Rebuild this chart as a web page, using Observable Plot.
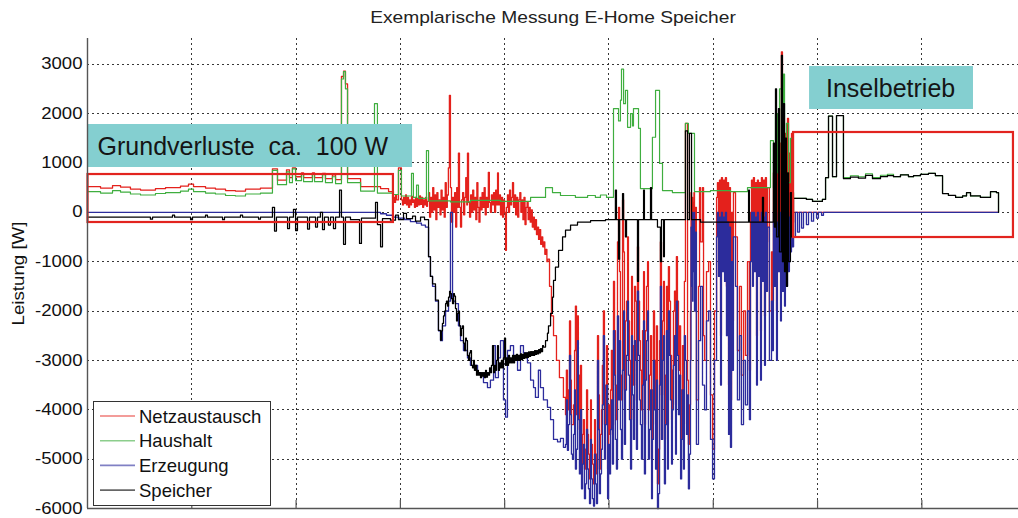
<!DOCTYPE html>
<html>
<head>
<meta charset="utf-8">
<script src="https://cdn.jsdelivr.net/npm/d3@7"></script>
<script src="https://cdn.jsdelivr.net/npm/@observablehq/plot@0.6"></script>
<style>
  html, body { margin: 0; padding: 0; background: #fff; }
  #chart { width: 1018px; height: 518px; }
</style>
</head>
<body>
<div id="chart"></div>
<script>
// ---- Texts and axis values ----
const chartTitle = "Exemplarische Messung E-Home Speicher";
const yLabel = "Leistung [W]";
const yTicks = [-6000, -5000, -4000, -3000, -2000, -1000, 0, 1000, 2000, 3000];
const gridMinutes = [60, 120, 180, 240, 300, 360, 420, 480];   // time grid, minutes since start

// ---- Series: [minute, power in W] ----
const seriesNames = ["Netzaustausch", "Haushalt", "Erzeugung", "Speicher"];
const seriesColors = ["#e4211c", "#3fae3f", "#2c2c9c", "#000000"];

const netzaustausch = [
  [0,520],[7.5,490],[14.4,540],[19.0,510],[24.7,470],[30.5,450],[39.1,480],[44.9,500],[53.5,530],[58.1,570],
  [61.0,520],[67.9,490],[73.6,470],[79.4,440],[85.1,430],[90.9,470],[99.5,490],[106.4,880],[109.3,650],[114.5,860],
  [116.2,700],[117.9,900],[119.7,720],[123.1,800],[124.3,700],[129.4,800],[130.6,700],[135.2,790],[136.9,680],[140.9,760],
  [142.7,660],[146.1,2750],[147.3,2860],[148.4,2600],[149.6,680],[157.1,520],[168.6,480],[173.2,420],
  [176.0,300],[176.6,200],[177.2,350],[177.8,250],[178.9,900],[180.6,250],[181.2,150],[181.8,300],[182.4,180],[183.0,350],
  [183.5,150],[184.1,300],[184.7,100],[185.3,250],[185.8,150],[186.4,320],[187.0,200],[187.5,250],[188.1,100],[188.7,300],
  [189.3,120],[189.9,280],[190.5,150],[191.1,330],[191.6,160],[192.2,300],[192.8,100],[193.4,250],[193.9,150],[194.5,300],
  [195.1,120],[195.6,220],
  [196.2,400],[196.8,-100],[197.4,300],[198.0,0],[198.6,500],[199.2,50],[199.8,350],[200.4,-150],[201.0,400],[201.6,100],
  [202.2,250],[202.8,-50],[203.4,450],[204.0,50],[204.6,300],[205.2,-100],[205.8,600],[206.4,100],[207.0,350],[207.6,900],
  [208.2,2370],[208.8,500],[209.4,-200],[210.0,300],[210.6,0],[211.2,400],[211.8,-300],[212.4,500],[213.0,100],[213.4,1200],
  [214.0,100],[214.6,-300],[215.2,250],[215.8,400],[216.4,-50],[217.0,300],[217.6,700],[218.2,150],[218.6,1200],[219.2,200],
  [219.8,-100],[220.4,350],[221.0,0],[221.6,450],[222.2,50],[222.8,300],[223.4,-150],[224.0,600],[224.6,100],[225.2,-200],
  [225.8,300],[226.4,50],[227.0,400],[227.6,100],[228.2,500],[228.8,-50],[229.4,300],[230.0,100],[230.6,810],[231.2,200],
  [231.8,0],[232.4,350],[233.0,150],[233.6,400],[234.2,0],[234.8,450],[235.4,150],[235.9,800],[236.4,150],[237.0,350],
  [237.6,-50],[238.2,300],[238.8,-100],[239.4,250],[239.9,0],[240.5,-770],[241.0,100],[241.6,350],[242.2,0],[242.8,450],
  [243.4,150],[244.0,300],[244.5,600],[245.1,100],[245.7,350],[246.3,-50],[246.9,300],[247.5,-100],[248.1,250],[248.7,400],
  [249.3,0],[249.9,250],[250.5,-150],[251.1,300],[251.7,-250],[252.3,100],[252.9,200],[253.5,-150],[254.1,100],[254.7,-200],
  [255.3,50],[255.9,-300],[256.5,-100],[257.1,-350],[257.7,-150],[258.3,-450],[258.9,-300],[259.5,-550],[260.1,-350],[260.7,-650],
  [261.3,-500],[261.9,-700],[262.5,-600],[263.1,-850],[263.7,-750],[264.3,-1000],[264.9,-950],
  [265.8,-1500],[266.9,-2100],[268.1,-2500],[269.8,-3000],[271.5,-3350],[273.8,-3750],
  [275.0,-4100],[276.1,-4000],[277.3,-2200],[278.4,-4300],[279.6,-3900],[280.7,-1900],[281.9,-2100],[283.0,-4400],[284.2,-5100],[285.3,-4200],
  [286.5,-4800],[287.7,-4500],[288.8,-5400],[289.9,-4700],[291.1,-5500],[292.2,-4900],[293.4,-2500],[294.5,-5200],[295.7,-4000],[296.8,-2000],
  [298.0,-3500],[299.2,-5200],[300.3,-4500],[301.4,-2800],[302.6,-1400],[303.7,-3500],[304.9,-600],[305.5,100],[306.1,-1200],[307.2,-3800],
  [307.8,250],[308.4,-800],[309.5,-2200],[310.7,-500],[311.8,-3000],[313.0,-1300],[314.1,-3500],[315.3,-1800],[316.4,-700],[317.6,-2600],
  [318.7,-4000],[319.9,-1200],[321.0,-2400],[322.2,-1000],[323.3,-3300],[324.5,-5000],[325.6,-2000],[326.8,-4300],[327.9,-5500],[329.1,-2600],
  [329.6,-600],[330.8,-2200],[331.9,-4600],[333.1,-1500],[334.2,-1100],[335.4,-2900],[336.5,-3200],[337.7,-1600],[338.8,-900],[340.0,-3200],
  [341.2,-4600],[342.3,-2700],[343.4,-1400],[344.0,1800],[345.2,-3400],[345.7,-4700],[346.9,-2000],[347.2,400],[347.5,-600],[347.8,300],
  [348.1,-900],[348.3,200],[348.6,-300],[348.9,400],[349.2,-1000],[349.8,100],[350.3,-3800],[351.5,-1500],[352.1,500],[352.7,-600],
  [353.8,500],[354.4,-2500],[355.0,-3000],[356.1,-1200],[357.3,-1000],[358.4,-3700],[359.6,-4800],[360.7,-2000],[361.9,300],[362.4,600],
  [363.0,-300],[363.6,650],[364.2,-2500],[364.7,700],[365.3,-200],[365.9,650],[366.5,-400],[367.0,700],[367.6,-1500],[368.2,600],
  [368.8,-3500],[369.3,500],[369.9,-3800],[370.5,0],[371.1,-2200],[371.6,400],[372.8,-500],[373.9,-2800],[375.1,-1500],[376.2,-3300],
  [377.4,-2000],[378.5,-2900],[379.7,-1000],[380.8,-3200],[381.4,0],[382.0,650],[382.6,-500],[383.1,700],[383.7,-200],[384.3,600],
  [384.9,-2500],[385.4,650],[386.0,-300],[386.6,600],[387.2,-2400],[387.7,700],[388.3,-400],[388.9,650],[389.5,-2100],[390.0,700],
  [390.6,-600],[391.2,500],[392.3,-2000],[393.5,-800],[394.1,-1800],[394.6,800],[395.2,-500],[395.8,1200],[396.4,-2000],[396.9,900],
  [397.5,-200],[398.1,1400],[398.7,-1200],[399.2,3250],[399.8,-600],[400.4,1500],[401.0,-900],[401.5,1600],[402.1,-500],[402.7,1900],
  [403.3,-200],[403.8,1200],[404.4,200],[405.0,1600],[405.6,-200],[406.2,0],[524.1,0],
  // additional samples in the fluctuating midday stretch
  [275.5,-3200],[276.7,-3600],[277.9,-3400],[279.0,-4300],[280.2,-2800],[281.3,-4100],[282.4,-3300],[283.6,-3100],[284.8,-4500],[285.9,-5200],
  [287.1,-3600],[288.2,-4900],[289.4,-3800],[290.5,-5100],[291.7,-4200],[292.8,-5300],[294.0,-3700],[295.1,-4500],[296.2,-3100],[297.4,-4300],
  [298.6,-2700],[299.8,-3900],[300.9,-3600],[302.0,-4300],[303.2,-2400],[304.3,-4200],[306.6,-3300],[308.9,-3600],[310.1,-1800],[311.2,-2200],
  [312.4,-4200],[313.5,-2700],[314.7,-1500],[315.8,-3800],[317.0,-1800],[318.1,-3200],[319.3,-2400],[320.4,-4300],[321.6,-1500],[322.7,-4000],
  [323.9,-2500],[325.0,-3600],[326.2,-3000],[327.3,-2300],[328.5,-4800],[330.2,-3700],[331.4,-1400],[332.5,-3300],[333.7,-4300],[334.8,-1800],
  [336.0,-4200],[337.1,-2000],[338.3,-3900],[339.4,-1800],[340.6,-2300],[341.8,-3600],[342.9,-4300],[346.3,-3900]
];

const haushalt = [
  [0,420],[7.5,390],[14.4,440],[19.0,410],[24.7,370],[30.5,350],[39.1,380],[44.9,400],[53.5,430],[58.1,470],
  [61.0,420],[67.9,390],[73.6,370],[79.4,340],[85.1,330],[90.9,370],[99.5,390],[106.4,850],[109.3,560],[114.5,820],
  [116.2,600],[117.9,880],[119.7,640],[123.1,780],[124.3,620],[129.4,770],[130.6,620],[135.2,760],[136.9,600],[140.9,720],
  [142.7,580],[146.1,2700],[147.3,2850],[148.4,2500],[149.6,600],[157.1,430],[165.1,2200],[166.8,390],[175.5,360],[178.9,850],
  [180.6,330],[186.4,790],[187.5,300],[189.3,550],[190.4,280],[195.0,1250],[196.2,230],[208.8,210],[220.3,240],[237.6,220],
  [254.9,300],[263.5,500],[267.5,400],[272.1,340],[280.7,300],[287.7,340],[292.2,300],[295.1,350],[298.6,300],[302.6,2100],
  [305.5,1850],[306.6,2270],[307.2,2900],[308.4,2200],[309.5,2470],[310.7,1720],[312.4,2000],[313.5,1750],[314.1,2100],[317.0,1700],
  [318.1,480],[325.0,1520],[326.8,2470],[329.1,990],[330.8,440],[336.5,400],[344.0,1800],[345.7,1600],[349.2,420],[358.4,440],
  [369.9,420],[379.7,500],[392.9,1450],[394.6,500],[395.8,2000],[396.9,800],[398.1,2500],[399.2,1200],[400.4,2800],[401.0,900],
  [402.1,1800],[403.3,600],[404.4,1500],[405.6,400],[406.2,280],[413.6,260],[417.1,220],[422.8,260],[424.6,700],[426.3,1950],
  [428.6,720],[430.9,1960],[434.9,700],[438.9,740],[443.5,720],[447.6,780],[451.6,700],[456.2,750],[460.2,770],[463.7,720],
  [467.7,760],[472.3,720],[475.2,740],[479.2,770],[483.8,790],[487.8,740],[491.9,380],[495.3,340],[499.4,300],[503.4,330],
  [505.7,400],[508.0,330],[513.7,300],[519.5,420],[522.9,400],[524.1,0]
];

const erzeugung = [
  [0,0],[168.6,-30],[172.0,-60],[175.5,-100],[178.9,-120],[182.4,-150],[185.8,-190],[189.3,-220],[192.1,-260],[194.4,-300],
  [196.2,-900],[197.3,-1300],[198.5,-1500],[200.2,-1800],[201.9,-2400],[203.1,-2600],[204.2,-2300],[206.0,-2000],[207.7,-1800],[208.8,0],
  [210.0,-1800],[211.7,-1850],[213.4,-2300],[214.6,-2600],[216.3,-2800],[218.6,-2950],[220.3,-3100],[222.1,-3100],[224.4,-3250],[226.1,-3300],
  [227.8,-3450],[230.1,-3550],[231.8,-3400],[233.6,-2700],[234.7,-3350],[236.4,-2950],[237.6,-2600],[239.3,-3800],[240.5,-4150],[241.6,-2800],
  [243.3,-2700],[245.1,-2950],[247.4,-3200],[249.1,-2700],[250.8,-2850],[253.1,-3050],[254.9,-3400],[256.6,-3550],[257.7,-3750],[259.4,-3200],
  [260.6,-3550],[262.3,-3800],[264.6,-3950],[266.4,-4200],[268.1,-4600],[270.4,-4650],[272.1,-4580],[273.8,-4760],
  [275.0,-4700],[276.1,-4820],[277.3,-2900],[278.4,-4900],[279.6,-4500],[280.7,-5200],[281.9,-2600],[283.0,-5300],[284.2,-5600],[285.3,-4700],
  [286.5,-5500],[287.7,-5200],[288.8,-5900],[289.9,-5400],[291.1,-5950],[292.2,-5500],[293.4,-3000],[294.5,-5700],[295.7,-4800],[296.8,-2500],
  [298.0,-4300],[299.2,-5800],[300.3,-5300],[301.4,-3800],[302.6,-2400],[303.7,-4600],[304.9,-2100],[306.1,-2600],[307.2,-5000],[308.4,-2000],
  [309.5,-3600],[310.7,-1800],[311.8,-4200],[313.0,-2500],[314.1,-4600],[315.3,-3000],[316.4,-1600],[317.6,-3800],[318.7,-5000],[319.9,-2200],
  [321.0,-3400],[322.2,-2000],[323.3,-4400],[324.5,-5800],[325.6,-3000],[326.8,-5200],[327.9,-6000],[329.1,-3500],[329.6,-1500],[330.8,-3000],
  [331.9,-5500],[333.1,-2400],[334.2,-2000],[335.4,-3800],[336.5,-4000],[337.7,-2500],[338.8,-1800],[340.0,-4100],[341.2,-5400],[342.3,-3600],
  [343.4,-2500],[344.6,-4500],[345.7,-5600],[346.9,-3000],[347.2,-300],[347.5,-1500],[347.8,0],[348.1,-1800],[348.3,-200],[348.6,-1200],
  [348.9,0],[349.2,-2000],[349.8,-400],[350.3,-4700],[351.5,-2600],[352.7,-1500],[353.8,-3500],[355.0,-4000],[356.1,-2200],[357.3,-2000],
  [358.4,-4600],[359.6,-5400],[360.7,-3000],[361.9,-500],[362.4,0],[363.0,-1300],[363.6,-100],[364.2,-3500],[364.7,0],[365.3,-1200],
  [365.9,-100],[366.5,-1400],[367.0,0],[367.6,-2500],[368.2,-200],[368.8,-4500],[369.3,-300],[369.9,-4760],[370.5,-1000],[371.1,-3200],
  [371.6,-500],[372.8,-1500],[373.9,-3800],[375.1,-2500],[376.2,-4300],[377.4,-3000],[378.5,-3900],[379.7,-2000],[380.8,-4200],[381.4,-1000],
  [382.0,0],[382.6,-1500],[383.1,0],[383.7,-1200],[384.3,-100],[384.9,-3500],[385.4,0],[386.0,-1300],[386.6,-200],[387.2,-3400],
  [387.7,0],[388.3,-1400],[388.9,-100],[389.5,-3100],[390.0,0],[390.6,-1600],[391.2,-300],[392.3,-3000],[393.5,-1800],[394.1,-2800],
  [394.6,0],[395.2,-1500],[395.8,0],[396.4,-3000],[396.9,-200],[397.5,-1200],[398.1,0],[398.7,-2200],[399.2,-300],[399.8,-1600],
  [400.4,0],[401.0,-1900],[401.5,-200],[402.1,-1500],[402.7,0],[403.3,-1200],[403.8,-100],[404.4,-800],[405.0,0],[405.6,-700],
  [406.2,-500],[407.3,0],[408.5,-400],[409.6,0],[410.8,-320],[411.9,0],[413.6,-250],[414.8,0],[416.5,-180],[417.7,0],
  [419.4,-120],[420.5,0],[422.3,-60],[423.4,0],[524.1,0],
  // additional samples in the fluctuating midday stretch
  [275.5,-3800],[276.7,-4300],[277.9,-4100],[279.0,-5000],[280.2,-3600],[281.3,-4800],[282.4,-4200],[283.6,-4000],[284.8,-5100],[285.9,-5800],
  [287.1,-4400],[288.2,-5600],[289.4,-4600],[290.5,-5800],[291.7,-4900],[292.8,-5900],[294.0,-4400],[295.1,-5300],[296.2,-3900],[297.4,-5000],
  [298.6,-3500],[299.8,-4700],[300.9,-4400],[302.0,-5100],[303.2,-3300],[304.3,-5200],[305.5,-3800],[306.6,-4400],[307.8,-3200],[308.9,-4700],
  [310.1,-2900],[311.2,-3300],[312.4,-5200],[313.5,-3700],[314.7,-2600],[315.8,-4800],[317.0,-2900],[318.1,-4300],[319.3,-3500],[320.4,-5300],
  [321.6,-2600],[322.7,-5000],[323.9,-3600],[325.0,-4600],[326.2,-4000],[327.3,-3400],[328.5,-5700],[330.2,-4600],[331.4,-2500],[332.5,-4300],
  [333.7,-5200],[334.8,-2900],[336.0,-5100],[337.1,-3100],[338.3,-4900],[339.4,-2900],[340.6,-3300],[341.8,-4600],[342.9,-5200],[344.0,-3000],
  [345.2,-3700],[346.3,-4900]
];

const speicher = [
  [0,-100],[36.2,-140],[37.4,-100],[48.9,-60],[50.1,-100],[59.3,-150],[60.4,-100],[67.9,-60],[69.0,-100],[77.7,-150],
  [78.8,-100],[88.0,-60],[89.2,-100],[98.4,-140],[99.5,-100],[106.4,100],[107.6,-380],[108.7,-100],[115.1,-330],[116.2,-100],
  [118.5,60],[119.7,-370],[120.8,-100],[126.6,-340],[127.7,-100],[131.2,-300],[132.3,-100],[134.0,0],[135.2,-350],[136.3,-100],
  [138.6,-260],[139.8,-100],[141.5,-330],[142.7,-100],[145.0,450],[146.1,-100],[147.3,-650],[148.4,-100],[151.3,-150],[156.5,-630],
  [157.6,-120],[165.7,200],[166.8,-250],[168.6,-700],[169.7,-130],[174.3,-160],[177.2,-60],[178.9,-150],[181.8,-20],[183.5,-130],
  [187.0,-80],[188.7,-180],[191.6,-100],[193.9,-150],
  [196.2,-900],[197.3,-1300],[198.5,-1450],[200.2,-1780],[201.9,-2390],[203.1,-2590],[203.7,-2400],[204.2,-2250],[204.8,-2100],[205.4,-2000],
  [206.0,-1850],[206.5,-1800],[207.1,-1900],[207.7,-1720],[208.3,-1600],[208.8,-1650],[209.4,-1750],[210.0,-1850],[210.6,-1650],[211.1,-1700],
  [211.7,-1950],[212.3,-2200],[212.9,-2050],[213.4,-2000],[214.0,-2300],[214.6,-2500],[215.2,-2350],[215.7,-2300],[216.3,-2650],[216.9,-2800],
  [217.5,-2550],[218.0,-2600],[218.6,-2900],[219.2,-3000],[219.8,-2850],[220.3,-2800],[220.9,-3100],[221.5,-3150],[222.1,-3000],[222.6,-3200],
  [223.2,-3100],[223.8,-3300],[224.4,-3200],[224.9,-3300],[225.5,-3250],[226.1,-3350],[226.7,-3250],[227.2,-3320],[227.8,-3250],[228.4,-3350],
  [229.0,-3200],[229.5,-3340],[230.1,-3250],[230.7,-3300],[231.3,-3150],[231.8,-3250],[232.4,-3100],[233.0,-2700],[233.6,-3250],[234.2,-3100],
  [234.7,-3200],[235.3,-3000],[235.9,-2700],[236.4,-3200],[237.0,-3050],[237.6,-3150],[238.1,-3000],[238.7,-3150],[239.3,-2950],[239.9,-2550],
  [240.5,-3100],[241.0,-2950],[241.6,-3100],[242.2,-2900],[242.8,-3050],[243.3,-2950],[243.9,-3050],[244.5,-2900],[245.1,-3050],[245.7,-2900],
  [246.3,-3000],[246.8,-2880],[247.4,-3000],[248.0,-2900],[248.6,-3000],[249.1,-2870],[249.7,-2980],[250.3,-2880],[250.9,-2960],[251.4,-2850],
  [252.0,-2950],[252.6,-2850],[253.2,-2940],[253.7,-2830],[254.3,-2920],[254.9,-2820],[255.5,-2900],[256.0,-2820],[256.6,-2900],[257.2,-2800],
  [257.8,-2880],[258.3,-2800],[258.9,-2870],[259.5,-2780],[260.1,-2850],[260.6,-2760],[261.2,-2820],[261.8,-2700],[262.3,-2730],[263.5,-2600],
  [264.6,-2450],[265.2,-2300],[266.4,-2050],[267.5,-1720],[268.1,-1380],[269.2,-1110],[271.0,-770],[273.3,-500],[275.0,-360],[277.9,-260],
  [281.9,-200],[289.4,-170],[298.0,-150],[303.7,450],[304.3,-150],[305.5,-950],[306.1,-150],[307.8,380],[308.4,-150],[309.5,-500],
  [310.1,-150],[316.4,-1400],[317.0,-150],[319.9,450],[320.4,-150],[323.9,500],[324.5,-150],[327.9,-300],[329.6,-1000],[330.2,-150],
  [331.4,-900],[331.9,-150],[344.0,1650],[345.2,-150],[346.3,1600],[347.5,-150],[352.7,-200],[380.3,450],[380.8,-200],[388.3,300],
  [388.9,-200],[394.6,1400],[395.2,-300],[395.8,2500],[396.4,-500],[397.5,2100],[398.1,-800],[399.2,3180],[399.8,-1000],[400.4,2200],
  [401.0,-1200],[401.5,1500],[402.1,-1500],[402.7,800],[403.3,-1000],[404.4,400],[405.0,-500],[406.2,280],[413.6,260],[417.1,220],
  [422.8,260],[424.6,700],[426.3,1950],[428.6,720],[430.9,1960],[434.9,680],[438.9,710],[443.5,690],[447.6,750],[451.6,680],
  [456.2,720],[460.2,740],[463.7,720],[467.7,760],[472.3,720],[475.2,740],[479.2,770],[483.8,790],[487.8,740],[491.9,380],
  [495.3,340],[499.4,300],[503.4,330],[505.7,400],[508.0,330],[513.7,300],[519.5,420],[522.9,400],[524.1,0]
];

// ---- Annotations (minutes / W) ----
const noteText = ["Grundverluste\u00a0\u00a0ca.\u00a0\u00a0100 W", "Inselbetrieb"];
const noteBoxX1 = [0, 415.4], noteBoxX2 = [187.0, 509.7];
const noteBoxY1 = [907, 2082], noteBoxY2 = [1778, 2953];
const noteTextX = [5.8, 462.0], noteTextY = [1330, 2507];
const frameX1 = [0.3, 406.2], frameX2 = [176.0, 532.7];
const frameY1 = [-207, -511], frameY2 = [765, 1616];

const byTime = (rows) => rows.slice().sort((a, b) => a[0] - b[0]);
const seriesData = [netzaustausch, haushalt, erzeugung, speicher].map(byTime);
const seriesWidth = [1.3, 1.2, 1.3, 1.25];

const font = "'Liberation Sans', Arial, Helvetica, sans-serif";
const gridStyle = {
  stroke: "#222", strokeOpacity: 0.9, strokeWidth: 1,
  strokeDasharray: "2,3", shapeRendering: "crispEdges"
};

const chart = Plot.plot({
  width: 1018,
  height: 518,
  marginLeft: 87,
  marginRight: 0,
  marginTop: 38,
  marginBottom: 10,
  x: {domain: [0, 535.6], axis: null},
  y: {domain: [-6000, 3520], axis: null},
  style: {fontFamily: font, background: "#fff", overflow: "visible"},
  marks: [
    Plot.ruleX(gridMinutes, gridStyle),
    Plot.ruleY(yTicks.filter((v) => v > -6000), gridStyle),
    ...seriesData.map((data, i) =>
      Plot.line(data, {
        x: (d) => d[0],
        y: (d) => d[1],
        stroke: seriesColors[i],
        strokeWidth: seriesWidth[i],
        curve: "step-after"
      })
    ),
    Plot.rect(d3.range(noteText.length), {
      x1: (i) => noteBoxX1[i], x2: (i) => noteBoxX2[i],
      y1: (i) => noteBoxY1[i], y2: (i) => noteBoxY2[i],
      fill: "#84cfd0"
    }),
    Plot.text([0], {
      x: (i) => noteTextX[i], y: (i) => noteTextY[i], text: (i) => noteText[i],
      textAnchor: "start", fontSize: 25, fill: "#151515"
    }),
    Plot.text([1], {
      x: (i) => noteTextX[i], y: (i) => noteTextY[i], text: (i) => noteText[i],
      textAnchor: "middle", fontSize: 25, fill: "#151515"
    }),
    Plot.rect(d3.range(frameX1.length), {
      x1: (i) => frameX1[i], x2: (i) => frameX2[i],
      y1: (i) => frameY1[i], y2: (i) => frameY2[i],
      fill: "none", stroke: "#e2241f", strokeWidth: 2.2
    }),
    Plot.ruleX([0], {stroke: "#555", strokeWidth: 1.4}),
    Plot.ruleY([-6000], {stroke: "#555", strokeWidth: 1.4}),
    Plot.ruleX(gridMinutes, {y1: -6000, y2: -5840, stroke: "#555", strokeWidth: 1.2}),
    Plot.text(yTicks, {
      x: () => 0, y: (d) => d, text: (d) => String(d),
      textAnchor: "end", dx: -5, fontSize: 16, fill: "#111"
    }),
    Plot.text([yLabel], {
      frameAnchor: "left", rotate: -90, dx: -69,
      textAnchor: "middle", lineAnchor: "middle",
      fontSize: 17, fill: "#111"
    }),
    Plot.text([chartTitle], {
      frameAnchor: "top", dy: -21,
      textAnchor: "middle", lineAnchor: "middle",
      fontSize: 16, fill: "#222"
    })
  ]
});

// the figure's lettering is set slightly wide: stretch it along the text direction
function widen(labels, factor) {
  for (const t of chart.querySelectorAll("text")) {
    if (!labels.includes(t.textContent)) continue;
    const x = parseFloat(t.getAttribute("x")) || 0;
    t.removeAttribute("x");
    const tr = t.getAttribute("transform") || "";
    t.setAttribute("transform", `${tr} translate(${x},0) scale(${factor},1)`);
  }
}
widen(yTicks.map(String), 1.16);
widen([yLabel], 1.1);
widen([chartTitle], 1.2);

// legend box in the lower left corner of the axes
const legend = d3.select(chart).append("g")
  .attr("font-family", font).attr("text-anchor", "start");
legend.append("rect")
  .attr("x", 93.5).attr("y", 401.5).attr("width", 177).attr("height", 104)
  .attr("fill", "#fff").attr("stroke", "#333").attr("stroke-width", 1);
seriesNames.forEach((name, i) => {
  const y = 416 + i * 24.7;
  legend.append("line")
    .attr("x1", 100).attr("x2", 135).attr("y1", y).attr("y2", y)
    .attr("stroke", seriesColors[i]).attr("stroke-opacity", 0.6).attr("stroke-width", 1.6);
  legend.append("text")
    .attr("x", 139).attr("y", y).attr("dy", "0.36em")
    .attr("text-anchor", "start")
    .attr("font-size", 18.5).attr("fill", "#111").text(name);
});

document.getElementById("chart").appendChild(chart);
</script>
</body>
</html>
